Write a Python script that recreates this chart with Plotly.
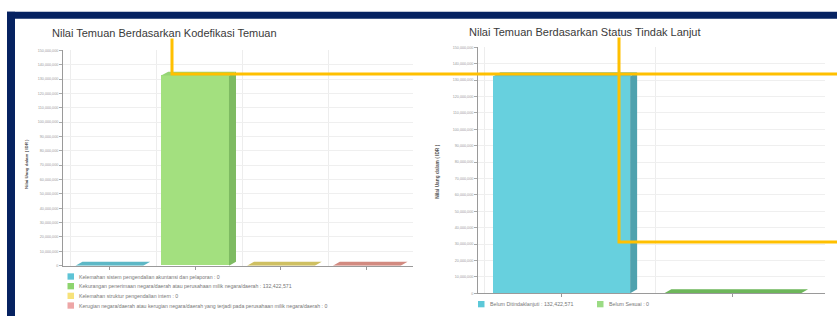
import plotly.graph_objects as go

W, H = 837, 318

# ---------------- data ----------------
kode_categories = [
    "Kelemahan sistem pengendalian akuntansi dan pelaporan",
    "Kekurangan penerimaan negara/daerah atau perusahaan milik negara/daerah",
    "Kelemahan struktur pengendalian intern",
    "Kerugian negara/daerah atau kerugian negara/daerah yang terjadi pada perusahaan milik negara/daerah",
]
kode_values = [0, 132422571, 0, 0]

status_categories = ["Belum Ditindaklanjuti", "Belum Sesuai"]
status_values = [132422571, 0]

y_tick_values = [0, 10000000, 20000000, 30000000, 40000000, 50000000, 60000000,
                 70000000, 80000000, 90000000, 100000000, 110000000, 120000000,
                 130000000, 140000000, 150000000]

title_left = "Nilai Temuan Berdasarkan Kodefikasi Temuan"
title_right = "Nilai Temuan Berdasarkan Status Tindak Lanjut"
y_title = "Nilai Uang dalam ( IDR )"

# ---------------- styles ----------------
kode_colors = ["#67CCDC", "#A3E07F", "#F5DE72", "#EFA29A"]
kode_side = ["#4FA6B3", "#7EBB62", "#C9B656", "#C57E74"]
kode_top = ["#5DB8C6", "#95D474", "#CFC062", "#D28A80"]
kode_legend = ["#5EC4D6", "#8ED46E", "#F7E27A", "#EDA6A6"]

status_colors = ["#67D0DE", "#8CCF72"]
status_side = ["#4FA2AE", "#5FA64C"]
status_top = ["#5CC0CE", "#6DB65A"]
status_legend = ["#5CC8D8", "#9BDB84"]

NAVY = "#062261"
YELLOW = "#FFC000"
FONT = "Liberation Sans, Arial, sans-serif"

def px(x):
    return x / W

def py(y):
    return 1 - y / H

# plot geometry (pixels)
L = dict(x0=63, x1=413, y0=267, y1=49, xr=[-0.54, 3.54], bw=0.79)
R = dict(x0=478, x1=825, y0=295, y1=46, xr=[-0.49, 1.54], bw=0.80)
YMAX = 150000000
DX_PX, DY_PX = 7, 4

fig = go.Figure()


def add_chart(geo, cats, vals, front, side, top, xa, ya):
    xs = list(range(len(cats)))
    fig.add_trace(go.Bar(
        x=xs, y=vals, width=geo["bw"], marker=dict(color=front, line=dict(width=0)),
        xaxis=xa, yaxis=ya, showlegend=False, hoverinfo="skip"))
    cat_per_px = (geo["xr"][1] - geo["xr"][0]) / (geo["x1"] - geo["x0"])
    val_per_px = YMAX / (geo["y0"] - geo["y1"])
    dx = DX_PX * cat_per_px
    dy = DY_PX * val_per_px
    hw = geo["bw"] / 2
    for i, v in zip(xs, vals):
        # side face
        fig.add_trace(go.Scatter(
            x=[i + hw, i + hw + dx, i + hw + dx, i + hw, i + hw],
            y=[0, dy, v + dy, v, 0],
            fill="toself", fillcolor=side[i], mode="lines", line=dict(width=0),
            xaxis=xa, yaxis=ya, showlegend=False, hoverinfo="skip"))
        # top face
        fig.add_trace(go.Scatter(
            x=[i - hw, i - hw + dx, i + hw + dx, i + hw, i - hw],
            y=[v, v + dy, v + dy, v, v],
            fill="toself", fillcolor=top[i], mode="lines", line=dict(width=0),
            xaxis=xa, yaxis=ya, showlegend=False, hoverinfo="skip"))


add_chart(L, kode_categories, kode_values, kode_colors, kode_side, kode_top, "x", "y")
add_chart(R, status_categories, status_values, status_colors, status_side, status_top, "x2", "y2")


def xaxis_cfg(geo, n, anchor):
    return dict(
        domain=[px(geo["x0"]), px(geo["x1"])], range=geo["xr"], fixedrange=True, anchor=anchor,
        tickvals=list(range(n)), showticklabels=False, ticks="outside", ticklen=3,
        tickcolor="#999", showline=True, linecolor="#9A9A9A", linewidth=1,
        showgrid=False, zeroline=False,
        minor=dict(tick0=-0.45, dtick=1, showgrid=True, gridcolor="#EDEDED", ticks=""),
    )


def yaxis_cfg(geo, anchor):
    return dict(
        domain=[py(geo["y0"]), py(geo["y1"])], range=[0, YMAX], anchor=anchor,
        tickvals=y_tick_values, tickformat=",d", tickfont=dict(size=3.7, color="#9A9A9A", family=FONT),
        ticks="outside", ticklen=3, tickcolor="#AAA", showline=True, linecolor="#9A9A9A",
        linewidth=1, showgrid=True, gridcolor="#EFEFEF", zeroline=False, fixedrange=True,
    )


fig.update_layout(
    width=W, height=H, margin=dict(l=0, r=0, t=0, b=0),
    paper_bgcolor="white", plot_bgcolor="rgba(0,0,0,0)",
    xaxis=xaxis_cfg(L, len(kode_categories), "y"),
    yaxis=yaxis_cfg(L, "x"),
    xaxis2=xaxis_cfg(R, len(status_categories), "y2"),
    yaxis2=yaxis_cfg(R, "x2"),
    bargap=0, showlegend=False,
    font=dict(family=FONT),
)

shapes = []
annotations = []

# navy frame
shapes.append(dict(type="rect", xref="paper", yref="paper", x0=px(7), x1=1.0,
                   y0=py(17), y1=py(10), fillcolor=NAVY, line=dict(width=0), layer="below"))
shapes.append(dict(type="rect", xref="paper", yref="paper", x0=px(7), x1=px(15),
                   y0=0, y1=py(10), fillcolor=NAVY, line=dict(width=0), layer="below"))

# titles
annotations.append(dict(text=title_left, x=px(50), y=py(31), xref="paper", yref="paper",
                        xanchor="left", yanchor="middle", showarrow=False,
                        font=dict(size=11, color="#3A3A3A", family=FONT)))
annotations.append(dict(text=title_right, x=px(467), y=py(30), xref="paper", yref="paper",
                        xanchor="left", yanchor="middle", showarrow=False,
                        font=dict(size=11, color="#3A3A3A", family=FONT)))

# y-axis titles
for xx, yy, fs in [(27, 164, 4.4), (438, 172, 4.8)]:
    annotations.append(dict(text="<b>" + y_title + "</b>", x=px(xx), y=py(yy), xref="paper",
                            yref="paper", textangle=-90, showarrow=False,
                            xanchor="center", yanchor="middle",
                            font=dict(size=fs, color="#555", family=FONT)))


def fmt(v):
    return f"{v:,}"

# legend left (vertical)
for i, (c, v) in enumerate(zip(kode_categories, kode_values)):
    yc = 278 + i * 9.8
    shapes.append(dict(type="rect", xref="paper", yref="paper", x0=px(67.5), x1=px(74),
                       y0=py(yc + 3.2), y1=py(yc - 3.2), fillcolor=kode_legend[i],
                       line=dict(width=0)))
    annotations.append(dict(text=f"{c} : {fmt(v)}", x=px(77), y=py(yc), xref="paper",
                            yref="paper", xanchor="left", yanchor="middle", showarrow=False,
                            font=dict(size=5.2, color="#777", family=FONT)))

# legend right (horizontal)
leg_x = [478, 597]
for i, (c, v) in enumerate(zip(status_categories, status_values)):
    yc = 306
    shapes.append(dict(type="rect", xref="paper", yref="paper", x0=px(leg_x[i]), x1=px(leg_x[i] + 6.5),
                       y0=py(yc + 3.2), y1=py(yc - 3.2), fillcolor=status_legend[i],
                       line=dict(width=0)))
    annotations.append(dict(text=f"{c} : {fmt(v)}", x=px(leg_x[i] + 10), y=py(yc), xref="paper",
                            yref="paper", xanchor="left", yanchor="middle", showarrow=False,
                            font=dict(size=5.3, color="#777", family=FONT)))

# yellow overlay lines
shapes.append(dict(type="path", xref="paper", yref="paper",
                   path=f"M {px(172)},{py(37)} L {px(172)},{py(73)} L 1.0,{py(73)}",
                   line=dict(color=YELLOW, width=3), layer="above"))
shapes.append(dict(type="path", xref="paper", yref="paper",
                   path=f"M {px(619)},{py(36)} L {px(619)},{py(243)} L 1.0,{py(243)}",
                   line=dict(color=YELLOW, width=3), layer="above"))

fig.update_layout(shapes=shapes, annotations=annotations)

fig.write_html("out.html", config={"displayModeBar": False},
               post_script="document.body.style.margin='0';document.body.style.overflow='hidden';")
